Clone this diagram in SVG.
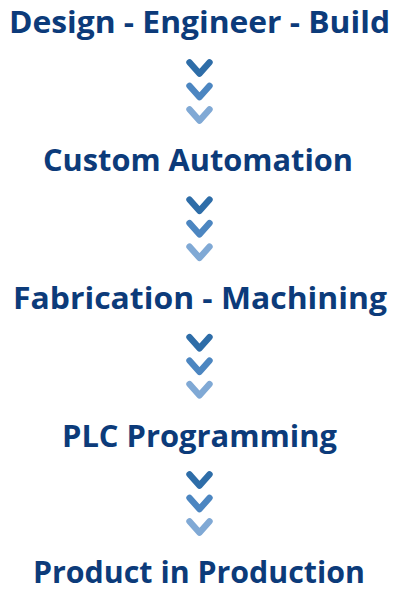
<svg xmlns="http://www.w3.org/2000/svg" xmlns:xlink="http://www.w3.org/1999/xlink" width="400" height="600" viewBox="0 0 400 600">
<style>
.t{font-family:"Open Sans","Liberation Sans",sans-serif;font-weight:700;font-size:31px;fill:#0C3B7A;text-anchor:middle}
.c{fill:none;stroke-width:6.4;stroke-linecap:round;stroke-linejoin:round}
.c1{stroke:#2E6DA8}
.c2{stroke:#4C86C1}
.c3{stroke:#80A9D5}
</style>
<defs>
<polyline id="chev" points="-10,-5.6 0,5.6 10,-5.6"/>
<g id="trio">
<use xlink:href="#chev" class="c c1" y="0"/>
<use xlink:href="#chev" class="c c2" y="23.5"/>
<use xlink:href="#chev" class="c c3" y="47"/>
</g>
</defs>
<rect width="400" height="600" fill="#fff"/>
<g id="connectors">
<use xlink:href="#trio" x="199.5" y="68"/>
<use xlink:href="#trio" x="199.5" y="205.3"/>
<use xlink:href="#trio" x="199.5" y="342.7"/>
<use xlink:href="#trio" x="199.5" y="480"/>
</g>
<g id="node-design"><text class="t" x="199.5" y="33" textLength="381" lengthAdjust="spacingAndGlyphs">Design - Engineer - Build</text></g>
<g id="node-custom"><text class="t" x="198" y="171" textLength="310" lengthAdjust="spacingAndGlyphs">Custom Automation</text></g>
<g id="node-fabrication"><text class="t" x="200" y="309" textLength="374" lengthAdjust="spacingAndGlyphs">Fabrication - Machining</text></g>
<g id="node-plc"><text class="t" x="199.5" y="447" textLength="275" lengthAdjust="spacingAndGlyphs">PLC Programming</text></g>
<g id="node-product"><text class="t" x="199" y="583" textLength="332" lengthAdjust="spacingAndGlyphs">Product in Production</text></g>
</svg>
